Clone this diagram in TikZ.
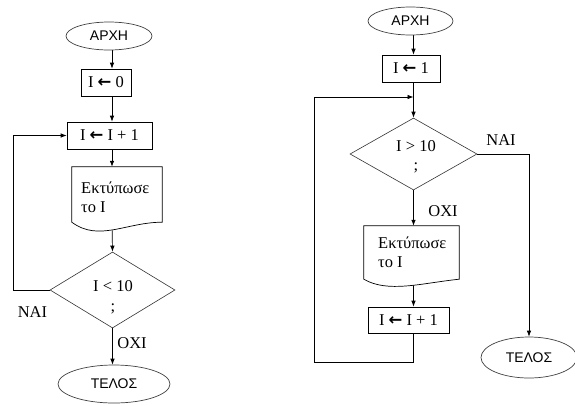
\documentclass[tikz,border=0pt]{standalone}
\usepackage{fontspec}
\setmainfont{Liberation Serif}
\newfontfamily\termfont{Liberation Sans}
\newfontfamily\symfont{DejaVu Sans}
\usetikzlibrary{arrows.meta,shapes.geometric,backgrounds}

% assignment arrow used inside the process boxes
\newcommand{\assignarrow}{{\symfont\bfseries ←}}

\tikzset{
  flow/.style={line width=0.7pt, draw=black},
  arr/.style={flow, -{Latex[length=6pt,width=4.5pt]}},
  terminal/.style={ellipse, draw=black!75, line width=0.7pt, inner sep=0pt,
    font=\termfont\fontsize{14}{16}\selectfont},
  procbox/.style={rectangle, draw=black, line width=0.7pt, inner sep=0pt,
    font=\fontsize{16.5}{18}\selectfont},
  decision/.style={diamond, draw=black!80, line width=0.6pt, inner sep=0pt},
  doc/.style={rectangle, draw=none, inner sep=0pt},
  doctext/.style={anchor=west, align=left, inner sep=0pt,
    font=\fontsize{16.5}{19.5}\selectfont},
  lbl/.style={inner sep=0pt, font=\fontsize{16.5}{18}\selectfont},
}

\begin{document}
\begin{tikzpicture}[x=1pt,y=-1pt]
\useasboundingbox (0,0) rectangle (575,405);

% ---------------- left flowchart: post-test loop ----------------
\coordinate (axL) at (112,0);
\coordinate (loopL) at (13,0);

\node[terminal, minimum width=86pt, minimum height=28pt] (startL) at (109,36) {ΑΡΧΗ};
\node[procbox, minimum width=50pt, minimum height=27pt] (initL) at (106,82.5) {I \assignarrow\ 0};
\node[procbox, minimum width=85pt, minimum height=27pt] (incL) at (109.5,135.5) {I \assignarrow\ I + 1};
\node[doc, minimum width=90pt, minimum height=55pt] (printL) at (117,194.5) {};
\node[decision, minimum width=125pt, minimum height=76pt] (decL) at (112.5,290) {};
\node[terminal, minimum width=112pt, minimum height=38pt] (endL) at (114,384) {ΤΕΛΟΣ};

% document symbol with wavy bottom edge
\draw[flow, fill=white] (printL.south west) -- (printL.north west) -- (printL.north east)
  -- (printL.south east)
  .. controls +(-36pt,0pt) and +(27pt,-20pt) .. (printL.south west) -- cycle;
\node[doctext] (printLt) at (81,197.5) {Εκτύπωσε\\το I};

\node[lbl] (condL1) at (113,286) {I < 10};
\node[lbl] (condL2) at (113,309) {;};

\node[lbl] (yesL) at (32.5,312) {ΝΑΙ};
\node[lbl] (noL) at (132,343) {ΟΧΙ};

\begin{scope}[on background layer]
  \draw[arr] (startL.south -| axL) -- (initL.north -| axL);
  \draw[arr] (initL.south -| axL) -- (incL.north -| axL);
  \draw[arr] (incL.south -| axL) -- (printL.north -| axL);
  \draw[arr] (printL.south -| axL) -- (decL.north);
  \draw[arr] (decL.west) -- (decL.west -| loopL) |- (incL.west);
  \draw[arr] (decL.south) -- (endL.north -| decL.south);
\end{scope}

% ---------------- right flowchart: pre-test loop ----------------
\coordinate (axR) at (413.5,0);
\coordinate (loopR) at (314,362);
\coordinate (joinR) at (413.5,97);

\node[terminal, minimum width=85pt, minimum height=28pt] (startR) at (410.5,21) {ΑΡΧΗ};
\node[procbox, minimum width=58pt, minimum height=27pt] (initR) at (411,68.5) {I \assignarrow\ 1};
\node[decision, minimum width=127pt, minimum height=72pt] (decR) at (413.5,154) {};
\node[doc, minimum width=95pt, minimum height=53pt] (printR) at (411.5,252.5) {};
\node[procbox, minimum width=81pt, minimum height=26pt] (incR) at (408.5,320) {I \assignarrow\ I + 1};
\node[terminal, minimum width=96pt, minimum height=41pt] (endR) at (529,357.5) {ΤΕΛΟΣ};

\draw[flow, fill=white] (printR.south west) -- (printR.north west) -- (printR.north east)
  -- (printR.south east)
  .. controls +(-38pt,-4pt) and +(24pt,-14pt) .. (printR.south west) -- cycle;
\node[doctext] (printRt) at (378,252.5) {Εκτύπωσε\\το I};

\node[lbl] (condR1) at (416,146) {I > 10};
\node[lbl] (condR2) at (416,168) {;};

\node[lbl] (yesR) at (501,140) {ΝΑΙ};
\node[lbl] (noR) at (443,211) {ΟΧΙ};

\begin{scope}[on background layer]
  \draw[arr] (startR.south -| axR) -- (initR.north -| axR);
  \draw[arr] (initR.south -| axR) -- (decR.north);
  \draw[arr] (incR.south -| axR) |- (loopR) |- (joinR);
  \draw[arr] (decR.south) -- (printR.north -| axR);
  \draw[arr] (printR.south -| axR) -- (incR.north -| axR);
  \draw[arr] (decR.east) -| (endR.north);
\end{scope}
\end{tikzpicture}
\end{document}
